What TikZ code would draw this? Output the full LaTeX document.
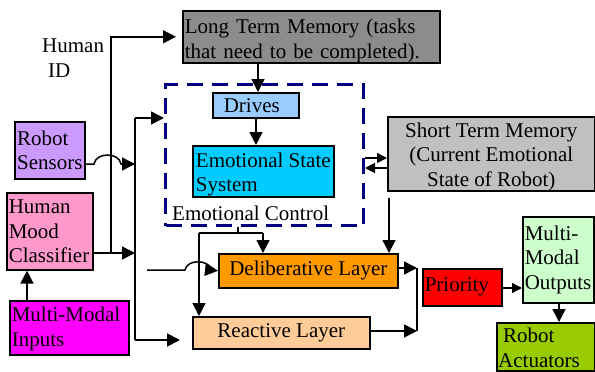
\documentclass[tikz,border=0pt]{standalone}
\usepackage{fontspec}
\setmainfont{Liberation Serif}
\usetikzlibrary{arrows.meta}
\definecolor{cLTM}{RGB}{140,140,140}
\definecolor{cSTM}{RGB}{192,192,192}
\definecolor{cDrv}{RGB}{153,204,255}
\definecolor{cESS}{RGB}{0,204,255}
\definecolor{cRS}{RGB}{204,153,255}
\definecolor{cHMC}{RGB}{255,153,204}
\definecolor{cMMI}{RGB}{255,0,255}
\definecolor{cDL}{RGB}{255,153,0}
\definecolor{cRL}{RGB}{255,204,153}
\definecolor{cPR}{RGB}{255,0,0}
\definecolor{cMMO}{RGB}{204,255,204}
\definecolor{cRA}{RGB}{153,204,0}
\definecolor{cNavy}{RGB}{0,0,128}
\newcommand\dnstrut[1]{\rule{0pt}{#1pt}}
\begin{document}
\begin{tikzpicture}[x=1pt,y=-1pt,
  txt/.style={font=\fontsize{21}{24.5}\selectfont},
  box/.style={txt, draw=black, line width=1.6pt, inner xsep=2pt, inner ysep=0pt, anchor=north west, align=left},
  conn/.style={line width=1.5pt},
  arr/.style={conn, -{Triangle[length=13pt,width=13pt]}},
  sarr/.style={conn, -{Triangle[length=10pt,width=10pt]}},
  lbl/.style={txt, inner sep=0pt, align=left}
]
\fill[white] (0,0) rectangle (595,372);
\useasboundingbox (0,0) rectangle (595,372);

% boxes
\node[box, fill=cLTM, text width=253pt, minimum height=51pt] (ltm) at (182,10)
  {\dnstrut{23}Long Term Memory (tasks\\that need to be completed).};
\node[draw=cNavy, line width=3pt, dash pattern=on 16pt off 9pt, minimum width=198pt, minimum height=141pt, anchor=north west, inner sep=0pt] (ec) at (164,83) {};
\node[box, fill=cDrv, minimum width=86pt, minimum height=25pt] (drv) at (212,92) {Drives\hspace{8pt}};
\node[box, fill=cESS, minimum width=141pt, minimum height=51pt] (ess) at (192,145) {\dnstrut{20.5}Emotional State\\System};
\node[lbl, anchor=base west] (ectxt) at (172,220) {Emotional Control};
\node[box, fill=cSTM, align=center, minimum width=207pt, minimum height=74pt] (stm) at (387,116)
  {\dnstrut{20.5}Short Term Memory\\(Current Emotional\\State of Robot)};
\node[box, fill=cRS, minimum width=70pt, minimum height=57pt] (rs) at (14,121) {Robot\\Sensors};
\node[box, fill=cHMC, text width=82pt, minimum height=77pt] (hmc) at (6,192) {Human\\Mood\\Classifier};
\node[box, fill=cMMI, text width=115pt, minimum height=54pt] (mmi) at (9,300) {\dnstrut{17}Multi-Modal\\Inputs};
\node[box, fill=cDL, align=center, minimum width=179pt, minimum height=34pt] (dl) at (218,253) {Deliberative Layer};
\node[box, fill=cRL, align=center, minimum width=177pt, minimum height=32pt] (rl) at (192,316) {Reactive Layer};
\node[box, fill=cPR, text width=75pt, minimum height=37pt] (pr) at (422,268) {Priority};
\node[box, fill=cMMO, text width=67pt, minimum height=86pt] (mmo) at (522,216) {Multi-\\Modal\\Outputs};
\node[box, fill=cRA, minimum width=98pt, minimum height=48pt] (ra) at (496,322) {};
\node[lbl, anchor=base west] (ratxt) at (498,367) {\hspace*{5pt}Robot\\Actuators};
\node[lbl, anchor=base west] (hidtxt) at (42,77) {Human\\\hspace*{6pt}ID};

% junction coordinates
\coordinate (hid) at (111,253);
\coordinate (busT) at (135,118);
\coordinate (busB) at (135,340);
\coordinate (rlIn) at (180,340);
\coordinate (dlIn) at (147,270);
\coordinate (jEC) at (238,233);
\coordinate (jL) at (199,233);
\coordinate (jR) at (263,233);
\coordinate (mT) at (417,268);
\coordinate (mB) at (417,331);

% connectors
\draw[arr] (ltm.south -| 258,0) -- (drv.north -| 258,0);
\draw[arr] (drv.south -| 256,0) -- (ess.north -| 256,0);
\draw[arr] (hmc.east |- hid) -- (hid -| busT);
\draw[arr, shorten >=6pt] (hid) -- (hid |- ltm.west) -- (ltm.west);
\draw[arr] (rs.east |- 0,164) -- (94,164) .. controls (96,152) and (119,152) .. (121,164) -- (busT |- 0,164);
\draw[conn] (busT) -- (busB);
\draw[arr] (busT) -- (ec.west |- busT);
\draw[arr] (busB) -- (rlIn);
\draw[arr] (dlIn) -- (185,270) .. controls (187,259) and (209,259) .. (211,270) -- (dl.west);
\draw[conn] (ec.south -| jEC) -- (jEC);
\draw[conn] (jL) -- (jR);
\draw[arr] (jR) -- (dl.north -| jR);
\draw[arr] (jL) -- (rl.north -| jL);
\draw[arr, shorten <=6pt] (stm.south -| 389,0) -- (dl.north -| 389,0);
\draw[sarr] (ec.east |- 0,158) -- (stm.west |- 0,158);
\draw[sarr] (stm.west |- 0,168) -- (ec.east |- 0,168);
\draw[arr] (dl.east |- mT) -- (mT);
\draw[arr] (rl.east |- mB) -- (mB);
\draw[conn] (mT) -- (mB);
\draw[sarr] (pr.east |- 0,288) -- (mmo.west |- 0,288);
\draw[arr] (mmo.south -| 559,0) -- (ra.north -| 559,0);
\draw[arr] (mmi.north -| 27,0) -- (hmc.south -| 27,0);
\end{tikzpicture}
\end{document}
